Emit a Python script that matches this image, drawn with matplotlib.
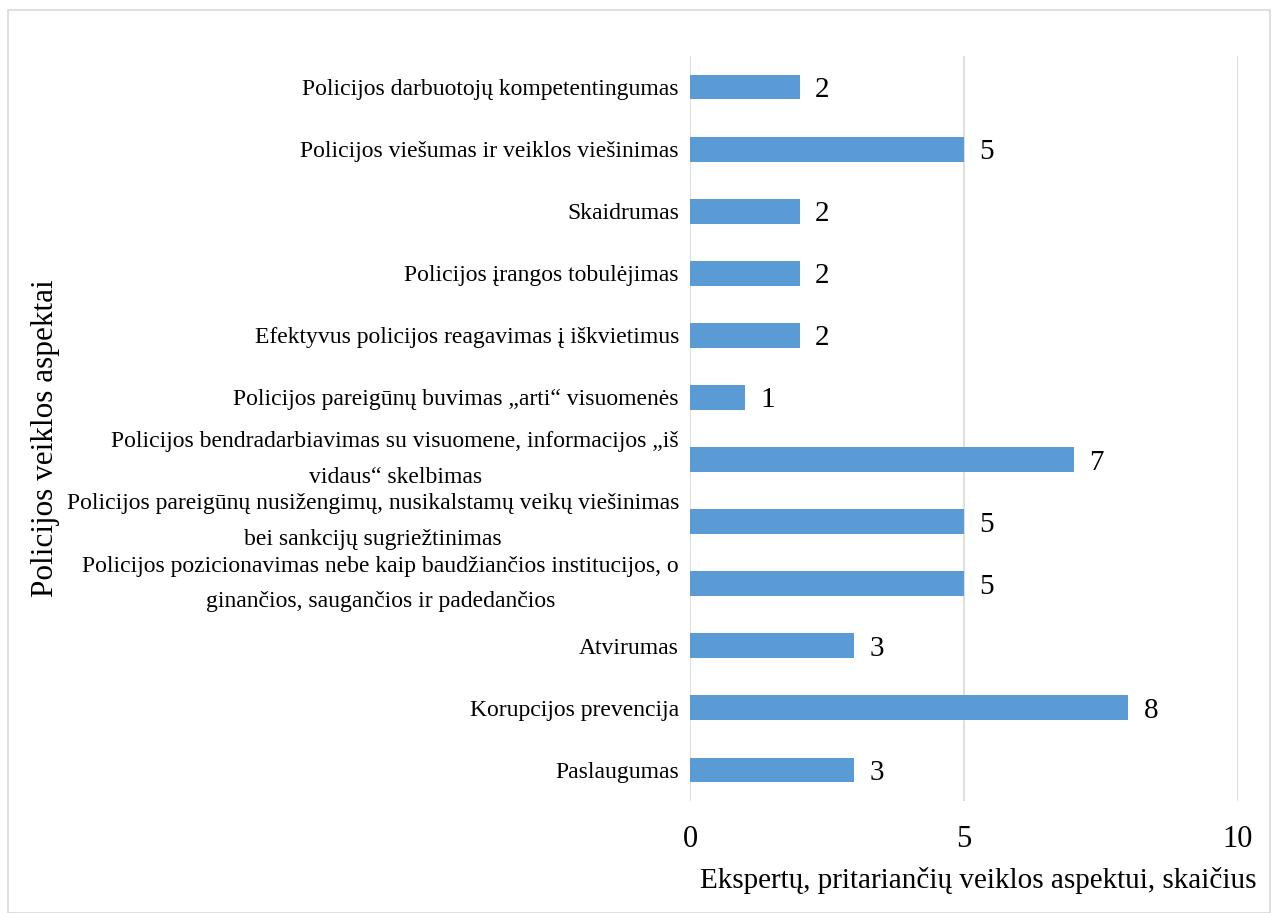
import matplotlib.pyplot as plt
from matplotlib.patches import Rectangle

plt.rcParams['font.family'] = ['Liberation Serif', 'DejaVu Serif']

categories = [
    "Policijos darbuotojų kompetentingumas",
    "Policijos viešumas ir veiklos viešinimas",
    "Skaidrumas",
    "Policijos įrangos tobulėjimas",
    "Efektyvus policijos reagavimas į iškvietimus",
    "Policijos pareigūnų buvimas „arti“ visuomenės",
    "Policijos bendradarbiavimas su visuomene, informacijos „iš\nvidaus“ skelbimas",
    "Policijos pareigūnų nusižengimų, nusikalstamų veikų viešinimas\nbei sankcijų sugriežtinimas",
    "Policijos pozicionavimas nebe kaip baudžiančios institucijos, o\nginančios, saugančios ir padedančios",
    "Atvirumas",
    "Korupcijos prevencija",
    "Paslaugumas",
]
values = [2, 5, 2, 2, 2, 1, 7, 5, 5, 3, 8, 3]
xticks = [0, 5, 10]

fig = plt.figure(figsize=(12.72, 9.13), dpi=100)
ax = fig.add_axes([690 / 1272, 1 - 801 / 913, 548 / 1272, 745 / 913])

ypos = list(range(len(categories)))
ax.barh(ypos, values, height=0.4, color='#5B9BD5', zorder=3)
ax.set_ylim(len(categories) - 0.5, -0.5)
ax.set_xlim(0, 10)

# value labels to the right of each bar
for y, v in zip(ypos, values):
    ax.text(v + 0.28, y, str(v), va='center_baseline', ha='left', fontsize=21)

ax.set_yticks(ypos)
ax.set_yticklabels(categories, fontsize=17, ha='right', ma='center', linespacing=1.9)
for lbl in ax.get_yticklabels():
    if '\n' in lbl.get_text():
        lbl.set_va('center')
ax.tick_params(axis='y', length=0, pad=8)
ax.set_xticks(xticks)
ax.tick_params(axis='x', length=0, labelsize=22, pad=17)
ax.grid(axis='x', color='#D9D9D9', linewidth=1.2, zorder=0)
for s in ax.spines.values():
    s.set_visible(False)

ax.set_xlabel("Ekspertų, pritariančių veiklos aspektui, skaičius", fontsize=21)
ax.xaxis.set_label_coords(0.526, -0.088)
fig.text(46 / 1272, 1 - 438 / 913, "Policijos veiklos aspektai", rotation=90,
         fontsize=22.5, ha='center', va='center')

# light frame around the whole chart
fig.patches.append(Rectangle((8 / 1272, 0), 1262 / 1272, 1 - 10 / 913,
                             transform=fig.transFigure, fill=False,
                             edgecolor='#D9D9D9', linewidth=1.2))

fig.savefig('out.png', dpi=100)
